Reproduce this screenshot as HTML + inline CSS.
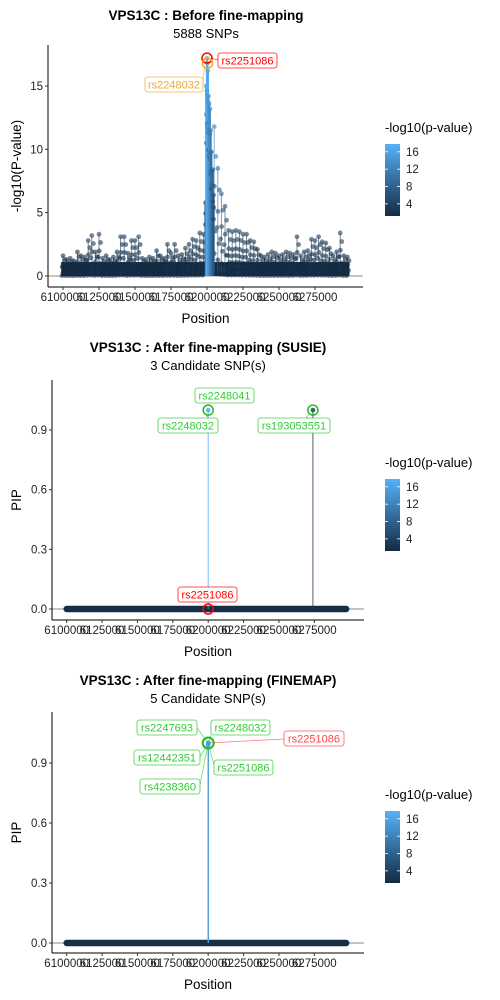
<!DOCTYPE html>
<html><head><meta charset="utf-8">
<style>
html,body{margin:0;padding:0;background:#fff;}
svg{display:block;font-family:"Liberation Sans",Arial,sans-serif;}
</style></head>
<body>
<svg id="chart" width="500" height="1000" viewBox="0 0 500 1000" xmlns="http://www.w3.org/2000/svg"></svg>
<script>
// ---- data ----
const xTickValues = [6100000,6125000,6150000,6175000,6200000,6225000,6250000,6275000];
const xTickLabels = ["6100000","6125000","6150000","6175000","6200000","6225000","6250000","6275000"];
const p1YTicks = [0,5,10,15];
const pipYTicks = [0,0.3,0.6,0.9];
const legendTicks = [4,8,12,16];
// background envelope (-log10 p) across the region
const bgPositions = [6100000,6102500,6105000,6107500,6110000,6112500,6115000,6117500,6120000,6122500,6125000,6127500,6130000,6132500,6135000,6137500,6140000,6142500,6145000,6147500,6150000,6152500,6155000,6157500,6160000,6162500,6165000,6167500,6170000,6172500,6175000,6177500,6180000,6182500,6185000,6187500,6190000,6192500,6195000,6197500,6205000,6207500,6210000,6212500,6215000,6217500,6220000,6222500,6225000,6227500,6230000,6232500,6235000,6237500,6240000,6242500,6245000,6247500,6250000,6252500,6255000,6257500,6260000,6262500,6265000,6267500,6270000,6272500,6275000,6277500,6280000,6282500,6285000,6287500,6290000,6292500,6295000,6297500];
const bgValues = [1.6,1.3,1.4,1.2,1.9,1.6,1.5,2.8,3.2,1.9,3.3,1.4,1.6,1.3,1.5,1.9,3.1,3.1,1.8,2.8,2.8,3.1,1.4,1.3,1.5,1.4,2.0,1.6,1.4,2.5,1.8,2.5,1.6,1.7,2.2,2.5,2.9,2.8,3.4,3.3,11.8,8.5,6.5,5.5,3.6,3.5,3.6,3.5,3.3,3.3,2.8,2.7,2.1,1.6,1.5,1.7,1.9,1.8,1.6,1.7,1.9,1.8,1.7,3.1,1.6,1.9,2.0,2.9,2.8,3.1,2.7,2.6,2.2,1.6,1.9,3.4,1.6,1.5];
// peak cluster
const peakPositions = [6199000,6199500,6200000,6200300,6200600,6201000,6201500,6202000,6202500,6203000,6204000,6204500];
const peakValues = [5.8,15.0,17.2,16.8,16.2,14.2,13.6,13.2,11.5,9.8,8.4,6.4];
// SuSiE PIPs
const susiePositions = [6200000,6274000];
const susiePIP = [1.0,1.0];
const susieLogP = [16.8,3.1];
// FINEMAP PIPs
const finemapPositions = [6200000,6200100,6199900,6200050,6200150];
const finemapPIP = [1.0,1.0,0.99,0.99,1.0];
const finemapLogP = [17.2,16.8,16.0,15.5,15.0];

// ---- helpers ----
const svg = document.getElementById('chart');
const NS = 'http://www.w3.org/2000/svg';
function mk(tag, attrs, parent){ const e=document.createElementNS(NS,tag); for(const k in attrs) e.setAttribute(k,attrs[k]); (parent||svg).appendChild(e); return e; }
function txt(s, attrs, parent){ const e=mk('text',attrs,parent); e.textContent=s; return e; }
function lerp(a,b,t){return Math.round(a+(b-a)*t);}
function col(v){ let t=Math.max(0,Math.min(1,(v-1)/16.5)); return `rgb(${lerp(19,86,t)},${lerp(43,177,t)},${lerp(67,247,t)})`; }

function panel(cfg){
  const g = mk('g',{});
  
  
  const X = p => cfg.x0 + (p-6100000)/100000*cfg.xs;
  const Y = v => cfg.y0 - (v-cfg.ymin)/(cfg.ymax-cfg.ymin)*(cfg.y0-cfg.y1);
  const t1 = txt(cfg.title,{x:cfg.cx,y:cfg.ty,'text-anchor':'middle','font-size':'13.5','font-weight':'bold',fill:'#000'},g);
   
  const t2 = txt(cfg.sub,{x:cfg.cx,y:cfg.ty+18,'text-anchor':'middle','font-size':'13',fill:'#000'},g);
   
  const zl = mk('line',{x1:cfg.ax,x2:cfg.ar,y1:Y(0),y2:Y(0),stroke:'#a0a0a0','stroke-width':1.2},g);
   
  cfg.draw(g,X,Y);
  const ya = mk('line',{x1:cfg.ax,x2:cfg.ax,y1:cfg.atop,y2:cfg.abot,stroke:'#000','stroke-width':1},g);
   
  const xa = mk('line',{x1:cfg.ax,x2:cfg.ar,y1:cfg.abot,y2:cfg.abot,stroke:'#000','stroke-width':1},g);
   
  cfg.yticks.forEach(v=>{
    mk('line',{x1:cfg.ax-3,x2:cfg.ax,y1:Y(v),y2:Y(v),stroke:'#333'},g);
    const l = txt(cfg.fmt(v),{x:cfg.ax-5,y:Y(v)+4,'text-anchor':'end','font-size':'11.5',fill:'#222'},g);
     
  });
  xTickValues.forEach((v,i)=>{
    mk('line',{x1:X(v),x2:X(v),y1:cfg.abot,y2:cfg.abot+3,stroke:'#333'},g);
    const l = txt(xTickLabels[i],{x:X(v),y:cfg.abot+14,'text-anchor':'middle','font-size':'11.5',fill:'#222'},g);
     
  });
  const xt = txt('Position',{x:(cfg.ax+cfg.ar)/2,y:cfg.abot+36,'text-anchor':'middle','font-size':'13.5',fill:'#000'},g);
   
  const yc=(cfg.atop+cfg.abot)/2;
  const yt = txt(cfg.ytitle,{x:0,y:0,transform:`translate(21,${yc}) rotate(-90)`,'text-anchor':'middle','font-size':'13.5',fill:'#000'},g);
   
  const lg = mk('g',{},g);
   
  txt('-log10(p-value)',{x:385,y:cfg.ly,'font-size':'13',fill:'#000'},lg);
  const gid='grad'+cfg.name;
  const defs=mk('defs',{},lg);
  const lgr=mk('linearGradient',{id:gid,x1:0,y1:1,x2:0,y2:0},defs);
  mk('stop',{offset:'0',  'stop-color':'#132B43'},lgr);
  mk('stop',{offset:'1','stop-color':'#56B1F7'},lgr);
  const by0=cfg.ly+12, bh=72;
  mk('rect',{x:385,y:by0,width:15,height:bh,fill:`url(#${gid})`},lg);
  const LY = v => by0+bh - (v-1.2)/(17.8-1.2)*bh;
  legendTicks.forEach(v=>{
    mk('line',{x1:385,x2:388,y1:LY(v),y2:LY(v),stroke:'#fff','stroke-width':0.8},lg);
    mk('line',{x1:397,x2:400,y1:LY(v),y2:LY(v),stroke:'#fff','stroke-width':0.8},lg);
    txt(String(v),{x:406,y:LY(v)+4,'font-size':'11.5',fill:'#222'},lg);
  });
}
function label(g,s,x,y,w,color,lx,ly,px,py){
  if(lx!==undefined){ mk('line',{x1:lx,y1:ly,x2:px,y2:py,stroke:color,'stroke-width':0.8,opacity:0.7},g); }
  const lb=mk('g',{},g);
  
  
  mk('rect',{x:x,y:y,width:w,height:15,rx:2.5,fill:'#fff',stroke:color,'stroke-width':0.8,opacity:0.9},lb);
  txt(s,{x:x+w/2,y:y+11.5,'text-anchor':'middle','font-size':'11',fill:color},lb);
}
function baseline(g,X,Y){
  const b=mk('line',{x1:X(bgPositions[0]),x2:X(bgPositions[bgPositions.length-1]),y1:Y(0),y2:Y(0),stroke:'#152d46','stroke-width':6.5,'stroke-linecap':'round'},g);
  
  
}

// Panel 1
panel({name:'before-finemapping-panel',title:'VPS13C : Before fine-mapping',sub:'5888 SNPs',cx:206,ty:20,
  x0:63,xs:144,ax:48,ar:363,atop:45,abot:287,y0:276,y1:86,ymin:0,ymax:15,yticks:p1YTicks,fmt:v=>String(v),
  ytitle:'-log10(P-value)',ly:132,
  draw:(g,X,Y)=>{
    bgPositions.forEach((p,i)=>{
      const v=bgValues[i];
      mk('rect',{x:X(p)-1.8,y:Y(Math.min(v,1.1)),width:3.8,height:Y(0)-Y(Math.min(v,1.1)),fill:'#152c45'},g);
      mk('line',{x1:X(p),x2:X(p),y1:Y(0),y2:Y(v),stroke:col(v),'stroke-width':1,opacity:0.6},g);
      [1,0.8,0.6,0.45,0.3,0.15,0.02].forEach(f=>{
        const c=mk('circle',{cx:X(p)+(f*7%3)-1,cy:Y(v*f),r:2.4,fill:col(v*f),opacity:0.6},g);
        
        
      });
    });
    peakPositions.forEach((p,i)=>{
      const v=peakValues[i];
      mk('line',{x1:X(p),x2:X(p),y1:Y(0),y2:Y(v),stroke:col(v),'stroke-width':2.2},g);
      [1,0.85,0.7].forEach(f=>{
        const c=mk('circle',{cx:X(p),cy:Y(v*f),r:2.4,fill:col(v*f),opacity:0.7},g);
        
        
      });
    });
    mk('circle',{cx:X(6200000),cy:Y(17.2),r:5,fill:'none',stroke:'#ff0000','stroke-width':1.5},g);
    mk('circle',{cx:X(6200300),cy:Y(16.8),r:5,fill:'none',stroke:'#FFA500','stroke-width':1.5},g);
    label(g,'rs2251086',218,53,59,'#ff0000',218,60,X(6200000)+4,Y(17.2));
    label(g,'rs2248032',145,77,58,'#F0A830',203,84,X(6200300)-3,Y(16.8)+3);
  }});

// Panel 2
panel({name:'susie-panel',title:'VPS13C : After fine-mapping (SUSIE)',sub:'3 Candidate SNP(s)',cx:208,ty:352,
  x0:66.7,xs:141.5,ax:52,ar:364,atop:380,abot:620,y0:609,y1:430,ymin:0,ymax:0.9,yticks:pipYTicks,fmt:v=>v.toFixed(1),
  ytitle:'PIP',ly:467,
  draw:(g,X,Y)=>{
    baseline(g,X,Y);
    susiePositions.forEach((p,i)=>{
      const v=susiePIP[i];
      mk('line',{x1:X(p),x2:X(p),y1:Y(0),y2:Y(v),stroke:col(susieLogP[i]),'stroke-width':1,opacity:0.8},g);
      const c=mk('circle',{cx:X(p),cy:Y(v),r:2.4,fill:col(susieLogP[i]),opacity:0.8},g);
      
      
      mk('circle',{cx:X(p),cy:Y(v),r:5,fill:'none',stroke:'#22bb22','stroke-width':1.5},g);
    });
    mk('circle',{cx:X(6200000),cy:Y(0),r:5,fill:'none',stroke:'#ff0000','stroke-width':1.5},g);
    label(g,'rs2248041',195,388,59,'#33cc33');
    label(g,'rs2248032',158,418,60,'#33cc33',208,418,X(susiePositions[0])-3,Y(susiePIP[0])+3);
    label(g,'rs193053551',258,418,72,'#33cc33',306,418,X(susiePositions[1])-3,Y(susiePIP[1])+3);
    label(g,'rs2251086',178,587,59,'#ff0000');
  }});

// Panel 3
panel({name:'finemap-panel',title:'VPS13C : After fine-mapping (FINEMAP)',sub:'5 Candidate SNP(s)',cx:208,ty:685,
  x0:66.7,xs:141.5,ax:52,ar:364,atop:712,abot:953,y0:943,y1:763,ymin:0,ymax:0.9,yticks:pipYTicks,fmt:v=>v.toFixed(1),
  ytitle:'PIP',ly:799,
  draw:(g,X,Y)=>{
    baseline(g,X,Y);
    const px=X(finemapPositions[0]), py=Y(finemapPIP[0]);
    label(g,'rs2247693',137,720,60,'#33cc33',197,728,px,py);
    label(g,'rs2248032',211,720,59,'#33cc33',211,735,px,py);
    label(g,'rs2251086',284,731,60,'#ff4444',284,739,px,py);
    label(g,'rs12442351',134,750,66,'#33cc33',200,757,px,py);
    label(g,'rs2251086',214,760,59,'#33cc33',214,765,px,py);
    label(g,'rs4238360',140,779,60,'#33cc33',200,785,px,py);
    finemapPositions.forEach((p,i)=>{
      const v=finemapPIP[i];
      mk('line',{x1:X(p),x2:X(p),y1:Y(0),y2:Y(v),stroke:col(finemapLogP[i]),'stroke-width':1,opacity:0.8},g);
      const c=mk('circle',{cx:X(p),cy:Y(v),r:2.4,fill:col(finemapLogP[i]),opacity:0.8},g);
      
      
    });
    mk('circle',{cx:px,cy:py,r:5.5,fill:'none',stroke:'#22bb22','stroke-width':2},g);
  }});
</script>
</body></html>
